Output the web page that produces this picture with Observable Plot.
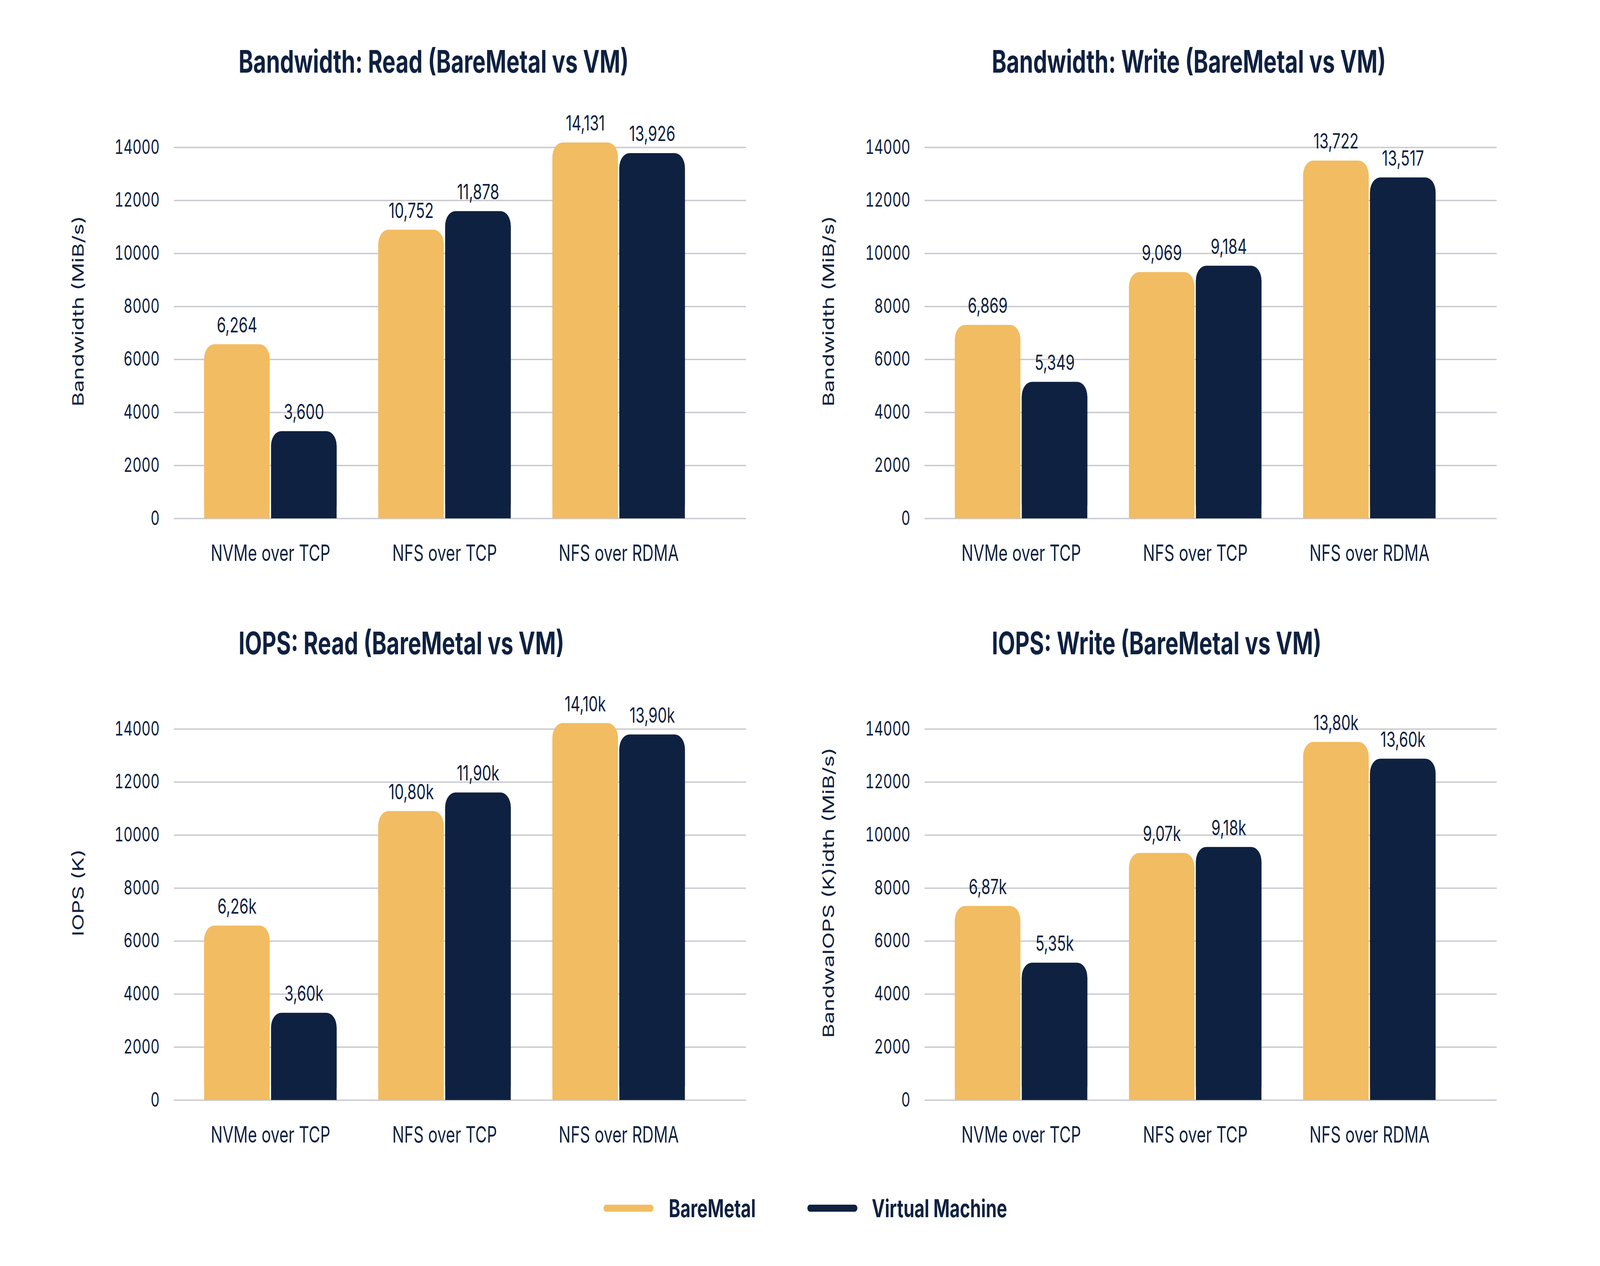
<!DOCTYPE html>
<html>
<head>
<meta charset="utf-8">
<script src="https://cdn.jsdelivr.net/npm/d3@7"></script>
<script src="https://cdn.jsdelivr.net/npm/@observablehq/plot@0.6"></script>
<style>
  html, body { margin: 0; padding: 0; background: #ffffff; overflow: hidden; }
  #stage { position: relative; overflow: hidden; background: #ffffff; }
  #root { position: absolute; left: 0; top: 0; width: 5761px; height: 3241px; transform-origin: 0 0; font-family: Inter, "Noto Sans", sans-serif; color: #0f2140; }
  .title { position: absolute; font-weight: 700; font-size: 80px; line-height: 1; white-space: nowrap; color: #0f2140; }
  .chart { position: absolute; }
  .swatch { position: absolute; height: 18px; border-radius: 9px; }
  .legtext { position: absolute; font-weight: 700; font-size: 63px; line-height: 1; white-space: nowrap; color: #0f2140; }
</style>
</head>
<body>
<div id="stage"><div id="root"></div></div>
<script>
// ---- data ----
const categories = ["NVMe over TCP", "NFS over TCP", "NFS over RDMA"];
const seriesNames = ["BareMetal", "Virtual Machine"];
const seriesColors = ["#f2bc62", "#0f2140"];
const yTicks = [0, 2000, 4000, 6000, 8000, 10000, 12000, 14000];

// Bandwidth: Read — bar heights as drawn, and printed labels
const bwReadBM = [6570, 10890, 14180];
const bwReadVM = [3290, 11590, 13780];
const bwReadBMLabels = ["6,264", "10,752", "14,131"];
const bwReadVMLabels = ["3,600", "11,878", "13,926"];

// Bandwidth: Write
const bwWriteBM = [7300, 9290, 13500];
const bwWriteVM = [5150, 9530, 12860];
const bwWriteBMLabels = ["6,869", "9,069", "13,722"];
const bwWriteVMLabels = ["5,349", "9,184", "13,517"];

// IOPS: Read
const iopsReadBM = [6580, 10900, 14220];
const iopsReadVM = [3290, 11600, 13790];
const iopsReadBMLabels = ["6,26k", "10,80k", "14,10k"];
const iopsReadVMLabels = ["3,60k", "11,90k", "13,90k"];

// IOPS: Write
const iopsWriteBM = [7320, 9320, 13510];
const iopsWriteVM = [5180, 9545, 12877];
const iopsWriteBMLabels = ["6,87k", "9,07k", "13,80k"];
const iopsWriteVMLabels = ["5,35k", "9,18k", "13,60k"];

const titles = [
  "Bandwidth: Read (BareMetal vs VM)",
  "Bandwidth: Write (BareMetal vs VM)",
  "IOPS: Read (BareMetal vs VM)",
  "IOPS: Write (BareMetal vs VM)"
];
const yLabels = ["Bandwidth (MiB/s)", "Bandwidth (MiB/s)", "IOPS (K)", "BandwaIOPS (K)idth (MiB/s)"];

// ---- layout ----
const INK = "#0f2140";
const GRID = "#c9c9d2";
const BAR_W = 237, GAP = 4;
const half = (BAR_W + GAP) / 2;

function makeChart(bm, vm, bmLabels, vmLabels, yLabel) {
  const BM = categories.map((c, i) => ({category: c, value: bm[i], label: bmLabels[i]}));
  const VM = categories.map((c, i) => ({category: c, value: vm[i], label: vmLabels[i]}));
  const inset = BAR_W + GAP;
  return Plot.plot({
    width: 2800,
    height: 1250,
    marginLeft: 626,
    marginRight: 114,
    marginTop: 127,
    marginBottom: 173,
    style: {fontFamily: "Inter, 'Noto Sans', sans-serif", color: INK, background: "transparent", overflow: "visible"},
    x: {domain: categories, paddingInner: 0.239, paddingOuter: 0.26, align: 0.33, label: null},
    y: {domain: [0, 14000], label: null},
    marks: [
      Plot.gridY(yTicks, {stroke: GRID, strokeOpacity: 1, strokeWidth: 3.5}),
      Plot.axisY(yTicks, {tickSize: 0, tickPadding: 52, fontSize: 50, fill: INK, tickFormat: d => String(d), label: null}),
      Plot.axisX({tickSize: 0, tickPadding: 68, fontSize: 57, fill: INK, label: null}),
      Plot.text([yLabel], {text: d => d, frameAnchor: "left", textAnchor: "middle", lineAnchor: "middle",
        rotate: -90, dx: -344, dy: -56, fontSize: 56, fill: INK}),
      // rounded tops
      Plot.barY(BM, {x: "category", y: "value", fill: seriesColors[0], insetRight: inset, rx: 37}),
      Plot.barY(VM, {x: "category", y: "value", fill: seriesColors[1], insetLeft: inset, rx: 37}),
      // square bottoms
      Plot.barY(BM, {x: "category", y: "value", fill: seriesColors[0], insetRight: inset, insetTop: 37}),
      Plot.barY(VM, {x: "category", y: "value", fill: seriesColors[1], insetLeft: inset, insetTop: 37}),
      Plot.text(BM, {x: "category", y: "value", text: "label", dx: -half, dy: -48, fontSize: 53, fill: INK}),
      Plot.text(VM, {x: "category", y: "value", text: "label", dx: half, dy: -48, fontSize: 53, fill: INK})
    ]
  });
}

const stage = document.getElementById("stage");
const root = document.getElementById("root");
const fit = () => {
  const w = window.innerWidth, h = window.innerHeight;
  root.style.transform = `scale(${w / 5761}, ${h / 3241})`;
  stage.style.width = w + "px";
  stage.style.height = h + "px";
};
fit();
window.addEventListener("resize", fit);

const cols = [0, 2703];
const rows = [250, 1739];
const titleLeft = [859, 3571];
const titleTop = [117, 1606];
const charts = [
  [bwReadBM, bwReadVM, bwReadBMLabels, bwReadVMLabels],
  [bwWriteBM, bwWriteVM, bwWriteBMLabels, bwWriteVMLabels],
  [iopsReadBM, iopsReadVM, iopsReadBMLabels, iopsReadVMLabels],
  [iopsWriteBM, iopsWriteVM, iopsWriteBMLabels, iopsWriteVMLabels]
];
charts.forEach((c, k) => {
  const col = k % 2, row = Math.floor(k / 2);
  const wrap = document.createElement("div");
  wrap.className = "chart";
  wrap.style.left = cols[col] + "px";
  wrap.style.top = rows[row] + "px";
  wrap.appendChild(makeChart(c[0], c[1], c[2], c[3], yLabels[k]));
  root.appendChild(wrap);
  const t = document.createElement("div");
  t.className = "title";
  t.textContent = titles[k];
  t.style.left = titleLeft[col] + "px";
  t.style.top = titleTop[row] + "px";
  root.appendChild(t);
});

// legend
const legendSwatchX = [2173, 2907];
const legendTextX = [2408, 3139];
seriesNames.forEach((name, i) => {
  const s = document.createElement("div");
  s.className = "swatch";
  s.style.left = legendSwatchX[i] + "px";
  s.style.top = (3093 - 9) + "px";
  s.style.width = "180px";
  s.style.background = seriesColors[i];
  root.appendChild(s);
  const t = document.createElement("div");
  t.className = "legtext";
  t.textContent = name;
  t.style.left = legendTextX[i] + "px";
  t.style.top = (3093 - 31) + "px";
  root.appendChild(t);
});
</script>
</body>
</html>
